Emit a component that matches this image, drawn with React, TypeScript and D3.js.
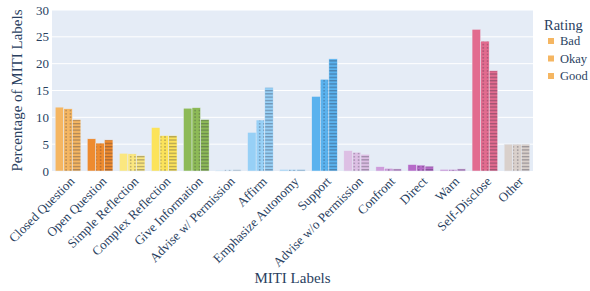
import React, { useRef, useEffect } from 'react'
import * as d3 from 'd3'

const categories = [
  'Closed Question',
  'Open Question',
  'Simple Reflection',
  'Complex Reflection',
  'Give Information',
  'Advise w/ Permission',
  'Affirm',
  'Emphasize Autonomy',
  'Support',
  'Advise w/o Permission',
  'Confront',
  'Direct',
  'Warn',
  'Self-Disclose',
  'Other',
]
const ratings = ['Bad', 'Okay', 'Good']
const badValues = [11.9, 6.0, 3.3, 8.1, 11.7, 0.2, 7.2, 0.3, 13.9, 3.8, 0.8, 1.2, 0.3, 26.4, 5.0]
const okayValues = [11.6, 5.2, 3.2, 6.6, 11.8, 0.3, 9.5, 0.3, 17.1, 3.5, 0.5, 1.1, 0.3, 24.2, 5.0]
const goodValues = [9.6, 5.8, 2.9, 6.6, 9.6, 0.3, 15.6, 0.3, 20.9, 3.1, 0.4, 0.9, 0.4, 18.7, 5.0]
const colors = [
  '#F5B662', '#EE8B2F', '#FBE77F', '#FCE35A', '#8DBA57',
  '#D0E6F7', '#97D0F6', '#A6D5F5', '#5AB2EE', '#DDBFE4',
  '#CE9CDB', '#B66BC8', '#C995D8', '#E26B8F', '#D9D0CB',
]
const yTicks = [0, 5, 10, 15, 20, 25, 30]

const App = () => {
  const svgRef = useRef<SVGSVGElement>(null)

  useEffect(() => {
    const svg = d3.select(svgRef.current)
    svg.selectAll('*').remove()

    const left = 52
    const right = 533
    const top = 10
    const bottom = 171
    const font = 'Liberation Serif'
    const textColor = '#2a3f5f'

    const defs = svg.append('defs')
    const dots = defs
      .append('pattern')
      .attr('id', 'pat-dots')
      .attr('patternUnits', 'userSpaceOnUse')
      .attr('width', 4.3)
      .attr('height', 3.3)
    dots.append('rect').attr('x', 1).attr('y', 1).attr('width', 1.3).attr('height', 1.3).attr('fill', 'rgba(40,40,60,0.45)')
    const lines = defs
      .append('pattern')
      .attr('id', 'pat-lines')
      .attr('patternUnits', 'userSpaceOnUse')
      .attr('width', 4)
      .attr('height', 3.3)
    lines.append('rect').attr('x', 0).attr('y', 1).attr('width', 4).attr('height', 1).attr('fill', 'rgba(40,40,60,0.45)')

    svg
      .append('rect')
      .attr('x', left)
      .attr('y', top)
      .attr('width', right - left)
      .attr('height', bottom - top)
      .attr('fill', '#E5ECF6')

    const x = d3.scaleBand().domain(categories).range([left, right]).paddingInner(0.2).paddingOuter(0.1)
    const xSub = d3.scaleBand().domain(ratings).range([0, x.bandwidth()])
    const y = d3.scaleLinear().domain([0, 30]).range([bottom, top])

    // grid
    svg
      .append('g')
      .selectAll('line')
      .data(yTicks.slice(1))
      .enter()
      .append('line')
      .attr('x1', left)
      .attr('x2', right)
      .attr('y1', (d) => y(d))
      .attr('y2', (d) => y(d))
      .attr('stroke', '#ffffff')
      .attr('stroke-width', 1)

    // y tick labels
    svg
      .append('g')
      .selectAll('text')
      .data(yTicks)
      .enter()
      .append('text')
      .attr('x', left - 3)
      .attr('y', (d) => y(d))
      .attr('dy', '0.35em')
      .attr('text-anchor', 'end')
      .attr('font-family', font)
      .attr('font-size', 13)
      .attr('fill', textColor)
      .text((d) => d)

    const series = [badValues, okayValues, goodValues]
    const patterns = [null, 'url(#pat-dots)', 'url(#pat-lines)']

    const rows = categories.flatMap((c, i) =>
      ratings.map((r, j) => ({ cat: c, rating: r, value: series[j][i], color: colors[i], pattern: patterns[j] })),
    )

    const bars = svg.append('g')
    bars
      .selectAll('rect.bar')
      .data(rows)
      .enter()
      .append('rect')
      .attr('class', 'bar')
      .attr('x', (d) => x(d.cat)! + xSub(d.rating)!)
      .attr('y', (d) => y(d.value))
      .attr('width', xSub.bandwidth())
      .attr('height', (d) => bottom - y(d.value))
      .attr('fill', (d) => d.color)
      .attr('stroke', '#E5ECF6')
      .attr('stroke-width', 0.5)

    bars
      .selectAll('rect.pat')
      .data(rows.filter((d) => d.pattern))
      .enter()
      .append('rect')
      .attr('class', 'pat')
      .attr('x', (d) => x(d.cat)! + xSub(d.rating)! + 0.5)
      .attr('y', (d) => y(d.value) + 0.5)
      .attr('width', xSub.bandwidth() - 1)
      .attr('height', (d) => Math.max(0, bottom - y(d.value) - 0.5))
      .attr('fill', (d) => d.pattern!)

    // x tick labels
    svg
      .append('g')
      .selectAll('text')
      .data(categories)
      .enter()
      .append('text')
      .attr('transform', (d) => `translate(${x(d)! + x.bandwidth() / 2 + 4},${bottom + 8}) rotate(-45)`)
      .attr('text-anchor', 'end')
      .attr('dy', '0.35em')
      .attr('font-family', font)
      .attr('font-size', 13)
      .attr('fill', textColor)
      .text((d) => d)

    // axis titles
    svg
      .append('text')
      .attr('x', (left + right) / 2)
      .attr('y', 283)
      .attr('text-anchor', 'middle')
      .attr('font-family', font)
      .attr('font-size', 15)
      .attr('fill', textColor)
      .text('MITI Labels')

    svg
      .append('text')
      .attr('transform', `translate(22,${(top + bottom) / 2}) rotate(-90)`)
      .attr('text-anchor', 'middle')
      .attr('font-family', font)
      .attr('font-size', 15)
      .attr('fill', textColor)
      .text('Percentage of MITI Labels')

    // legend
    const legend = svg.append('g')
    legend
      .append('text')
      .attr('x', 544)
      .attr('y', 30)
      .attr('font-family', font)
      .attr('font-size', 14.5)
      .attr('fill', textColor)
      .text('Rating')
    const items = legend
      .selectAll('g.item')
      .data(ratings)
      .enter()
      .append('g')
      .attr('class', 'item')
      .attr('transform', (d, i) => `translate(551,${41 + i * 17.5})`)
    items
      .append('rect')
      .attr('x', -3)
      .attr('y', -3)
      .attr('width', 6)
      .attr('height', 6)
      .attr('fill', colors[0])
    items
      .append('text')
      .attr('x', 9)
      .attr('dy', '0.35em')
      .attr('font-family', font)
      .attr('font-size', 12.5)
      .attr('fill', textColor)
      .text((d) => d)
  }, [])

  return (
    <div style={{ position: 'absolute', left: 0, top: 0, width: 590, height: 291 }}>
      <svg ref={svgRef} width={590} height={291} style={{ display: 'block', background: '#fff' }} />
    </div>
  )
}

export default App
